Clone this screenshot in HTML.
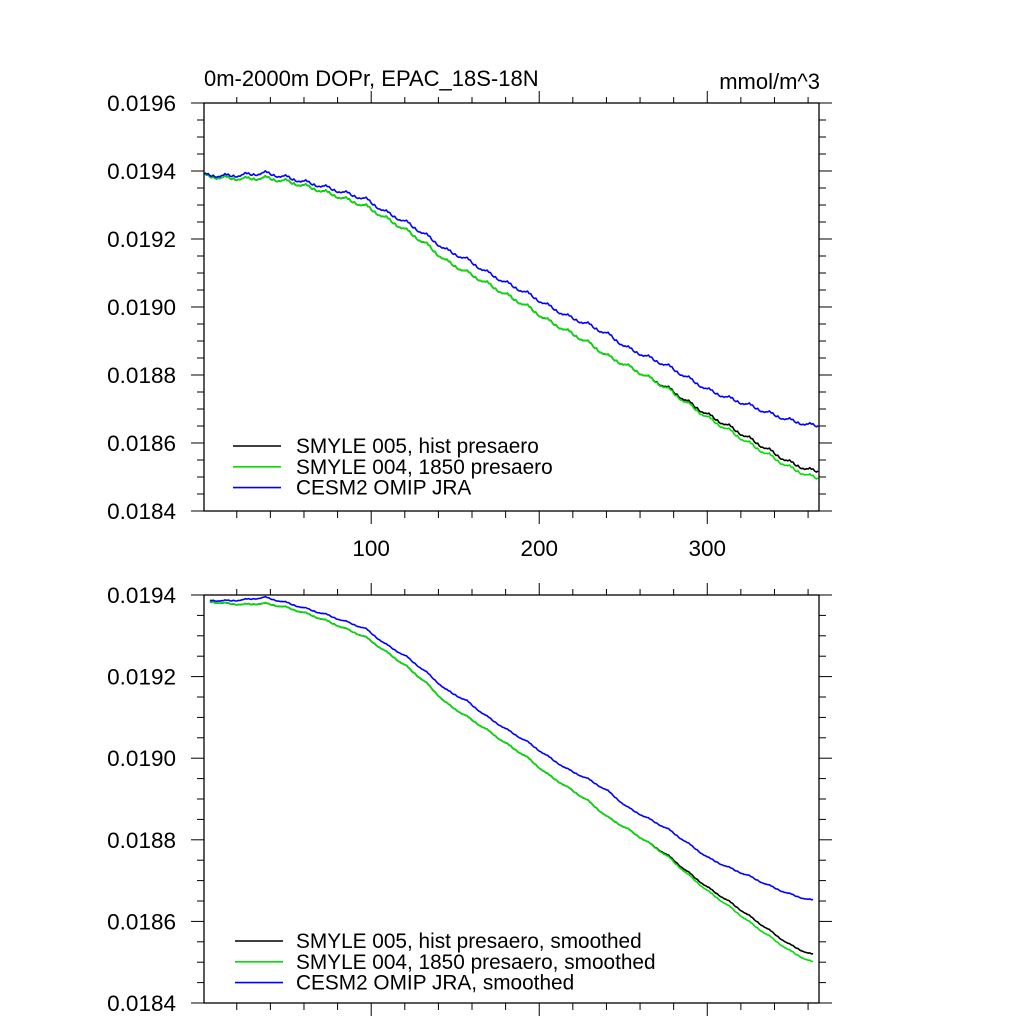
<!DOCTYPE html>
<html><head><meta charset="utf-8"><style>
body{margin:0;background:#fff;}
svg{display:block;font-family:"Liberation Sans",sans-serif;}
</style></head><body>
<svg id="c" width="1024" height="1024" viewBox="0 0 1024 1024"></svg>
<script>
// annual-mean values at t = 0,12,24,...,372 (months)
const knotT = [0,12,24,36,48,60,72,84,96,108,120,132,144,156,168,180,192,204,216,228,240,252,264,276,288,300,312,324,336,348,360,372];
const histVals = [0.0193853,0.0193794,0.0193765,0.0193794,0.0193706,0.0193559,0.0193382,0.0193176,0.019297,0.0192618,0.0192265,0.0191853,0.0191353,0.019103,0.0190706,0.0190353,0.0190029,0.0189618,0.0189294,0.0188971,0.0188559,0.0188265,0.0187941,0.0187618,0.0187206,0.0186824,0.01865,0.0186147,0.0185794,0.0185441,0.0185206,0.0185118];
const presVals = [0.0193853,0.0193794,0.0193765,0.0193794,0.0193706,0.0193559,0.0193382,0.0193176,0.019297,0.0192618,0.0192265,0.0191853,0.0191353,0.019103,0.0190706,0.0190353,0.0190029,0.0189618,0.0189294,0.0188971,0.0188559,0.0188265,0.0187941,0.0187588,0.0187147,0.0186735,0.0186382,0.0186,0.0185647,0.0185294,0.018503,0.0184882];
const omipVals = [0.0193882,0.0193853,0.0193882,0.0193941,0.0193824,0.0193676,0.0193529,0.0193353,0.0193176,0.0192794,0.01925,0.0192118,0.0191676,0.0191412,0.019103,0.0190706,0.0190412,0.0190059,0.0189735,0.01895,0.0189206,0.0188794,0.0188529,0.0188265,0.0187912,0.0187559,0.0187324,0.0187118,0.0186882,0.0186676,0.0186529,0.018647];
// seasonal anomaly per calendar month
const seasonal = [0.000007,0.000003,0.000005,-0.000001,-0.000003,0.000001,-0.000004,-0.000005,-0.000002,-0.000003,0.000001,0.000002];
const xTicks = [100,200,300];
const yTicksTop = ["0.0184","0.0186","0.0188","0.0190","0.0192","0.0194","0.0196"];
const yTicksBot = ["0.0184","0.0186","0.0188","0.0190","0.0192","0.0194"];

const svg=document.getElementById('c');
const NS='http://www.w3.org/2000/svg';
function mk(tag,attrs,parent){const e=document.createElementNS(NS,tag);for(const k in attrs)e.setAttribute(k,attrs[k]);(parent||svg).appendChild(e);return e;}
const X0=204,X1=819,T0=0.5,T1=366.5;
const xs=t=>X0+(t-T0)/(T1-T0)*(X1-X0);
function interp(vals,t){let i=Math.max(0,Math.min(Math.floor(t/12),knotT.length-2));const f=(t-knotT[i])/12;return vals[i]*(1-f)+vals[i+1]*f;}

function panel(name,top,bot,ymin,ymax,yt,showX,seasonalOn,series,legend,lx,ly){
  const g=mk('g',{});
  
  
  const ys=v=>bot-(v-ymin)/(ymax-ymin)*(bot-top);
  series.forEach(s=>{
    let d='';
    const tStart=seasonalOn?1:4, tEnd=seasonalOn?366:363;
    for(let t=tStart;t<=tEnd;t++){
      let v=interp(s.vals,t-0.5);
      if(seasonalOn)v+=seasonal[(t-1)%12];
      else v+=0.35*(seasonal[(t-1)%12]);
      d+=(t===tStart?'M':'L')+xs(t).toFixed(1)+','+ys(v).toFixed(1);
    }
    const p=mk('path',{d:d,fill:'none',stroke:s.color,'stroke-width':1.6,'stroke-linejoin':'round'},g);
    
    
  });
  const fr=mk('rect',{x:X0,y:top,width:X1-X0,height:bot-top,fill:'none',stroke:'#000','stroke-width':1.3},g);
  
  
  const step=0.00005;const n=Math.round((ymax-ymin)/step);
  for(let i=0;i<=n;i++){
    const y=ys(ymin+i*step);const L=(i%4===0)?13:7;
    mk('line',{x1:X0,x2:X0-L,y1:y,y2:y,stroke:'#000','stroke-width':1},g);
    mk('line',{x1:X1,x2:X1+L,y1:y,y2:y,stroke:'#000','stroke-width':1},g);
  }
  yt.forEach((lab,i)=>{
    const tx=mk('text',{x:176,y:ys(ymin+i*0.0002)+8,'text-anchor':'end','font-size':22.5},g);
    tx.textContent=lab;
    
    
  });
  for(let t=20;t<=360;t+=20){
    const x=xs(t);const L=(t%100===0)?13:7;
    mk('line',{x1:x,x2:x,y1:bot,y2:bot+L,stroke:'#000','stroke-width':1},g);
    mk('line',{x1:x,x2:x,y1:top,y2:top-((t%100===0)?12:6),stroke:'#000','stroke-width':1},g);
  }
  if(showX)xTicks.forEach(t=>{
    const tx=mk('text',{x:xs(t),y:bot+45,'text-anchor':'middle','font-size':22.5},g);
    tx.textContent=t;
    
    
  });
  legend.forEach((l,i)=>{
    const y=ly+i*20.8;
    const ln=mk('line',{x1:lx,x2:lx+48,y1:y,y2:y,stroke:series[i].color,'stroke-width':1.6},g);
    
    
    const tx=mk('text',{x:296,y:y+7,'font-size':20.8},g);
    tx.textContent=l;
    
    
  });
}
const ser=[{key:'smyle-005-hist',color:'#000',vals:histVals},{key:'smyle-004-1850',color:'#00e000',vals:presVals},{key:'cesm2-omip-jra',color:'#0000ff',vals:omipVals}];
panel('top-panel',103,511,0.0184,0.0196,yTicksTop,true,true,ser,["SMYLE 005, hist presaero","SMYLE 004, 1850 presaero","CESM2 OMIP JRA"],233,446);
panel('bottom-panel',595,1003,0.0184,0.0194,yTicksBot,false,false,ser,["SMYLE 005, hist presaero, smoothed","SMYLE 004, 1850 presaero, smoothed","CESM2 OMIP JRA, smoothed"],235,941);
const t1=mk('text',{x:204,y:86,'font-size':22});t1.textContent='0m-2000m DOPr, EPAC_18S-18N';


const t2=mk('text',{x:820,y:89,'font-size':22,'text-anchor':'end'});t2.textContent='mmol/m^3';


</script>
</body></html>
